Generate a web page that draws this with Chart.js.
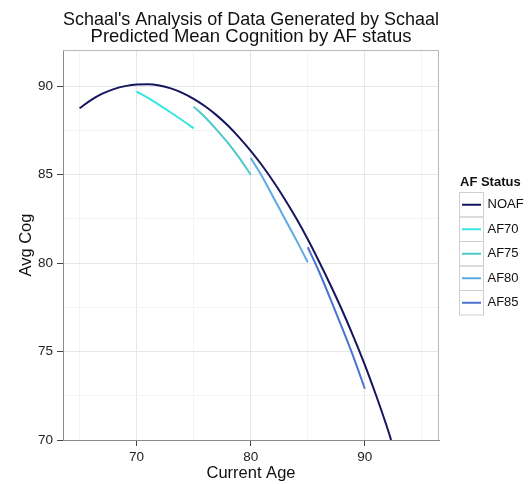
<!DOCTYPE html>
<html lang="en">
<head>
    <meta charset="UTF-8">
    <title>Predicted Mean Cognition by AF status</title>
    <script src="https://cdn.jsdelivr.net/npm/chart.js"></script>
    <style>
        body { margin: 0; background: #fff; }
        canvas { display: block; }
    </style>
</head>
<body>
    <canvas id="cog-chart" width="529" height="484"></canvas>

    <script>
        // Predicted mean cognition curves, one per AF onset group
        const noafAge = [65, 66, 67, 68, 69, 70, 71, 72, 73, 74, 75, 76, 77, 78, 79, 80, 81, 82, 83, 84, 85, 86, 87, 88, 89, 90, 91, 92, 92.3];
        const noafCog = [88.76, 89.22, 89.58, 89.84, 90.01, 90.10, 90.11, 90.04, 89.88, 89.63, 89.29, 88.87, 88.37, 87.78, 87.10, 86.35, 85.52, 84.60, 83.60, 82.52, 81.35, 80.08, 78.75, 77.35, 75.85, 74.25, 72.50, 70.62, 70.0];

        const af70Age = [70, 71, 72, 73, 74, 75];
        const af70Cog = [89.70, 89.34, 88.94, 88.52, 88.08, 87.62];

        const af75Age = [75, 76, 77, 78, 79, 80];
        const af75Cog = [88.85, 88.25, 87.55, 86.80, 85.95, 85.00];

        const af80Age = [80, 81, 82, 83, 84, 85];
        const af80Cog = [85.95, 84.90, 83.70, 82.50, 81.30, 80.05];

        const af85Age = [85, 86, 87, 88, 89, 90];
        const af85Cog = [80.90, 79.50, 77.95, 76.35, 74.70, 72.90];

        const groupNames = ['NOAF', 'AF70', 'AF75', 'AF80', 'AF85'];
        const groupColors = ['#16165e', '#3ae4e4', '#4ccaca', '#5eaae2', '#4a74d0'];

        const xTickValues = [65, 70, 75, 80, 85, 90, 95];
        const xTickLabels = ['', '70', '', '80', '', '90', ''];
        const yTickValues = [70, 72.5, 75, 77.5, 80, 82.5, 85, 87.5, 90];
        const yTickLabels = ['70', '', '75', '', '80', '', '85', '', '90'];

        const ages = [noafAge, af70Age, af75Age, af80Age, af85Age];
        const cogs = [noafCog, af70Cog, af75Cog, af80Cog, af85Cog];

        Chart.defaults.font.family = "'Liberation Sans', Arial, sans-serif";

        const isMajor = (vals, labels, v) => labels[vals.indexOf(v)] !== '';

        // panel border drawn round the plotting area
        const panelFrame = {
            id: 'panelFrame',
            beforeDatasetsDraw(chart) {
                const { ctx, chartArea: a } = chart;
                ctx.save();
                ctx.lineWidth = 1;
                ctx.strokeStyle = '#b8b8b8';
                ctx.beginPath();
                ctx.moveTo(a.left, a.top + 0.5);
                ctx.lineTo(a.right - 0.5, a.top + 0.5);
                ctx.lineTo(a.right - 0.5, a.bottom);
                ctx.stroke();
                ctx.restore();
            }
        };

        // ggplot style legend with boxed keys
        const keyLegend = {
            id: 'keyLegend',
            afterDraw(chart) {
                const { ctx } = chart;
                const left = 459.5, top = 192.5, size = 24.5;
                ctx.save();
                ctx.fillStyle = '#111';
                ctx.textBaseline = 'middle';
                ctx.textAlign = 'left';
                ctx.font = "bold 13px 'Liberation Sans', Arial, sans-serif";
                ctx.fillText('AF Status', 460, 182);
                ctx.font = "13px 'Liberation Sans', Arial, sans-serif";
                chart.data.datasets.forEach((ds, i) => {
                    const y = top + i * size;
                    ctx.strokeStyle = '#cfcfcf';
                    ctx.lineWidth = 1;
                    ctx.strokeRect(left, y, 24, size);
                    ctx.strokeStyle = ds.borderColor;
                    ctx.lineWidth = 2;
                    ctx.beginPath();
                    ctx.moveTo(left + 2.5, y + size / 2);
                    ctx.lineTo(left + 21.5, y + size / 2);
                    ctx.stroke();
                    ctx.fillStyle = '#111';
                    ctx.fillText(ds.label, 487.5, y + size / 2);
                });
                ctx.restore();
            }
        };

        function renderCogChart() {
            const ctx = document.getElementById('cog-chart').getContext('2d');
            new Chart(ctx, {
                type: 'line',
                data: {
                    datasets: groupNames.map((name, i) => ({
                        label: name,
                        data: ages[i].map((a, j) => ({ x: a, y: cogs[i][j] })),
                        borderColor: groupColors[i],
                        borderWidth: 2,
                        pointRadius: 0,
                        cubicInterpolationMode: 'monotone',
                        fill: false
                    }))
                },
                options: {
                    responsive: false,
                    animation: false,
                    layout: { padding: { right: 90 } },
                    scales: {
                        x: {
                            type: 'linear',
                            min: 63.55,
                            max: 96.5,
                            afterBuildTicks: s => { s.ticks = xTickValues.map(v => ({ value: v })); },
                            afterFit: s => { s.height = 44; },
                            ticks: {
                                autoSkip: false,
                                maxRotation: 0,
                                padding: 3,
                                color: '#222',
                                font: { size: 13.5 },
                                callback: v => xTickLabels[xTickValues.indexOf(v)]
                            },
                            grid: {
                                tickLength: 6,
                                color: c => isMajor(xTickValues, xTickLabels, c.tick.value) ? '#e6e6e6' : '#f4f4f4',
                                tickColor: c => isMajor(xTickValues, xTickLabels, c.tick.value) ? '#444' : 'rgba(0,0,0,0)'
                            },
                            border: { color: '#8a8a8a' },
                            title: {
                                display: true,
                                text: 'Current Age',
                                color: '#111',
                                font: { size: 16.5 },
                                padding: { top: 0, bottom: 1 }
                            }
                        },
                        y: {
                            min: 70,
                            max: 92.05,
                            afterBuildTicks: s => { s.ticks = yTickValues.map(v => ({ value: v })); },
                            afterFit: s => { s.width = 63; },
                            ticks: {
                                autoSkip: false,
                                padding: 4,
                                color: '#222',
                                font: { size: 13.5 },
                                callback: v => yTickLabels[yTickValues.indexOf(v)]
                            },
                            grid: {
                                tickLength: 6,
                                color: c => isMajor(yTickValues, yTickLabels, c.tick.value) ? '#e6e6e6' : '#f4f4f4',
                                tickColor: c => isMajor(yTickValues, yTickLabels, c.tick.value) ? '#444' : 'rgba(0,0,0,0)'
                            },
                            border: { color: '#8a8a8a' },
                            title: {
                                display: true,
                                text: 'Avg Cog',
                                color: '#111',
                                font: { size: 16.5 },
                                padding: { top: 17, bottom: 0 }
                            }
                        }
                    },
                    plugins: {
                        legend: { display: false },
                        tooltip: { enabled: false },
                        title: {
                            display: true,
                            fullSize: false,
                            text: ["Schaal's Analysis of Data Generated by Schaal", 'Predicted Mean Cognition by AF status'],
                            color: '#111',
                            font: { size: 18.5, weight: 'normal', lineHeight: 0.92 },
                            padding: { top: 11, bottom: 5 }
                        }
                    }
                },
                plugins: [panelFrame, keyLegend]
            });
        }

        renderCogChart();
    </script>
</body>
</html>
